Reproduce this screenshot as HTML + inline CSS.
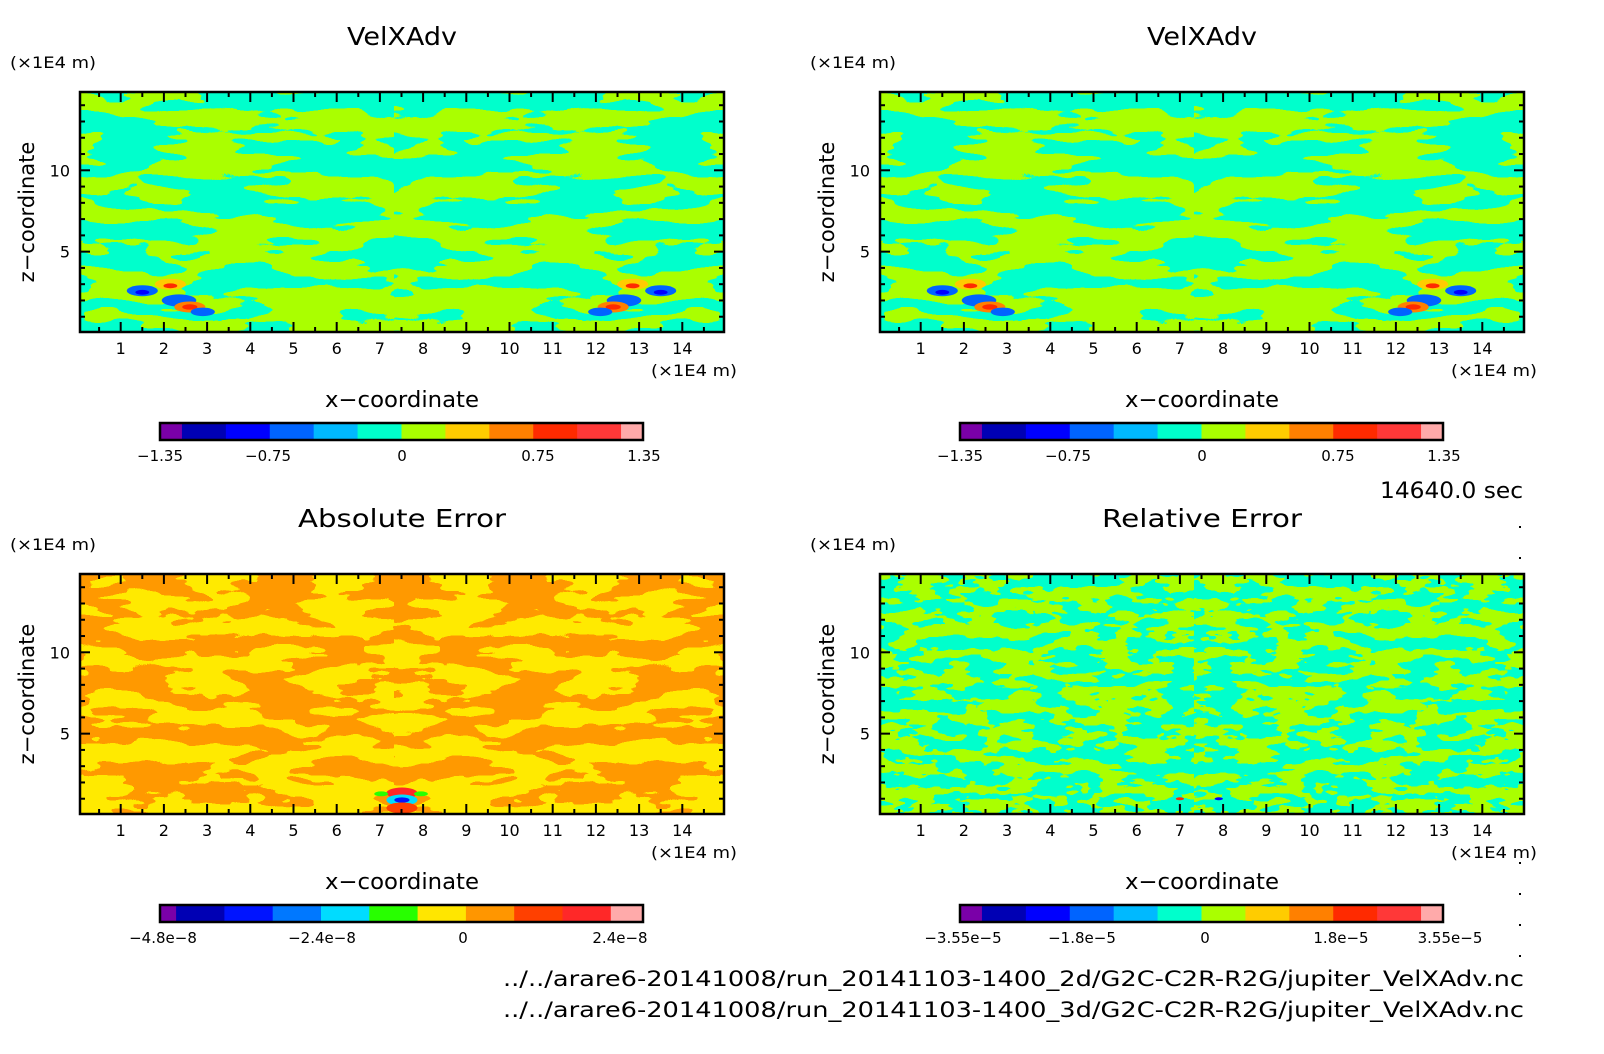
<!DOCTYPE html>
<html><head><meta charset="utf-8"><style>
html,body{margin:0;padding:0;background:#fff;}
svg{display:block;font-family:"DejaVu Sans","Liberation Sans",sans-serif;}
</style></head><body>
<svg id="fig" width="1604" height="1054" viewBox="0 0 1604 1054">
<defs>
<clipPath id="plotClip"><rect x="80" y="92" width="644" height="240"/></clipPath>
<filter id="fTop" filterUnits="userSpaceOnUse" x="70" y="80" width="340" height="270" color-interpolation-filters="sRGB">
 <feTurbulence type="fractalNoise" baseFrequency="0.011 0.045" numOctaves="3" seed="7"/>
 <feColorMatrix type="matrix" values="1 0 0 0 0  1 0 0 0 0  1 0 0 0 0  0 0 0 0 1"/>
 <feComponentTransfer><feFuncR type="discrete" tableValues="0 0.667"/><feFuncG type="discrete" tableValues="1 1"/><feFuncB type="discrete" tableValues="0.8 0"/></feComponentTransfer>
</filter>
<filter id="fAbs" filterUnits="userSpaceOnUse" x="70" y="560" width="340" height="270" color-interpolation-filters="sRGB">
 <feTurbulence type="fractalNoise" baseFrequency="0.016 0.055" numOctaves="3" seed="3"/>
 <feColorMatrix type="matrix" values="1 0 0 0 0  1 0 0 0 0  1 0 0 0 0  0 0 0 0 1"/>
 <feComponentTransfer><feFuncR type="discrete" tableValues="1 1"/><feFuncG type="discrete" tableValues="0.6 0.92"/><feFuncB type="discrete" tableValues="0 0"/></feComponentTransfer>
</filter>
<filter id="fRel" filterUnits="userSpaceOnUse" x="870" y="560" width="340" height="270" color-interpolation-filters="sRGB">
 <feTurbulence type="fractalNoise" baseFrequency="0.03 0.08" numOctaves="3" seed="11"/>
 <feColorMatrix type="matrix" values="1 0 0 0 0  1 0 0 0 0  1 0 0 0 0  0 0 0 0 1"/>
 <feComponentTransfer><feFuncR type="discrete" tableValues="0 0.667"/><feFuncG type="discrete" tableValues="1 1"/><feFuncB type="discrete" tableValues="0.8 0"/></feComponentTransfer>
</filter>
</defs>
<g id="root"></g>
</svg>
<script>
// ---- data ----
const xTicks=[1,2,3,4,5,6,7,8,9,10,11,12,13,14];
const yTicks=[5,10];
const cbTopColors=["#7a00a8","#0000b4","#0000ff","#0064ff","#00b9ff","#00ffcc","#aaff00","#ffcc00","#ff8000","#ff2a00","#ff3838","#ffaaaa"];
const cbTopBounds=[-1.35,-1.2,-0.9,-0.6,-0.3,0,0.3,0.6,0.9,1.2,1.5,1.8,1.95];
const cbAbsColors=["#7a00a8","#0000b4","#0014ff","#0078ff","#00dcff","#28ff00","#ffe600","#ff9600","#ff4000","#ff2828","#ffaaaa"];
const cbAbsBounds=[-4.8,-4.5,-3.6,-2.7,-1.8,-0.9,0,0.9,1.8,2.7,3.6,4.2];
const topLabels=["−1.35","−0.75","0","0.75","1.35"];
const topLabelPos=[160,268,402,538,644];
const absLabels=["−4.8e−8","−2.4e−8","0","2.4e−8"];
const absLabelPos=[163,322,463,620];
const relLabels=["−3.55e−5","−1.8e−5","0","1.8e−5","3.55e−5"];
const relLabelPos=[963,1082,1205,1341,1450];
const topBlobsX=[1.5,1.5,2.15,2.15,2.35,2.6,2.6,2.9];
const topBlobsY=[2.6,2.5,3.0,2.9,2.0,1.6,1.6,1.3];
const topBlobsR=[0.45,0.2,0.45,0.2,0.5,0.45,0.22,0.35];
const topBlobsC=["#0064ff","#0000ff","#ffcc00","#ff2a00","#0064ff","#ff8000","#ff2a00","#0064ff"];
const absBlobsX=[7.51,7.51,7.51,7.51,7.03,7.95];
const absBlobsY=[1.35,0.92,0.92,0.43,1.3,1.3];
const absBlobsR=[0.45,0.45,0.22,0.45,0.2,0.2];
const absBlobsC=["#ff2828","#00dcff","#0014ff","#ff4000","#28ff00","#28ff00"];

const NS="http://www.w3.org/2000/svg";
const root=document.getElementById('root');
function mk(tag,attrs,parent,text){const e=document.createElementNS(NS,tag);for(const k in attrs)e.setAttribute(k,attrs[k]);if(text!==undefined)e.textContent=text;(parent||root).appendChild(e);return e;}

const panels=[
 {ox:0,oy:0,title:"VelXAdv",tl:110,filter:"fTop",bx:topBlobsX,by:topBlobsY,br:topBlobsR,bc:topBlobsC,mirror:true,cb:"top",name:"velxadv-2d"},
 {ox:800,oy:0,title:"VelXAdv",tl:110,filter:"fTop",bx:topBlobsX,by:topBlobsY,br:topBlobsR,bc:topBlobsC,mirror:true,cb:"top",name:"velxadv-3d"},
 {ox:0,oy:482,title:"Absolute Error",tl:208,filter:"fAbs",bx:absBlobsX,by:absBlobsY,br:absBlobsR,bc:absBlobsC,mirror:false,cb:"abs",name:"absolute-error"},
 {ox:800,oy:482,title:"Relative Error",tl:200,filter:"fRel",bx:[7.0,7.9],by:[1.0,1.0],br:[0.12,0.12],bc:["#ff2a00","#0000ff"],mirror:false,cb:"rel",name:"relative-error"}
];
const fillFilterOrigin={fTop:[0,0],fAbs:[0,482],fRel:[800,482]};

panels.forEach((p,i)=>{
 const g=mk('g',{transform:`translate(${p.ox},${p.oy})`});
 
 
 const X=v=>77.5+43.2*v, Y=v=>333-16.27*v;
 const L=80,R=724,T=92,B=332;
 const clipG=mk('g',{'clip-path':'url(#plotClip)'},g);
 const fo=fillFilterOrigin[p.filter];
 const fg=mk('g',{transform:`translate(${-fo[0]},${-fo[1]})`},clipG);
 
 
 const bx=fo[0], by=fo[1];
 const half=mk('rect',{x:L+bx,y:T+by,width:(R-L)/2+1,height:B-T,filter:`url(#${p.filter})`},fg);
 const id='half'+i; half.setAttribute('id',id);
 const mx=(L+R)/2+bx;
 mk('use',{href:'#'+id,transform:`translate(${2*mx},0) scale(-1,1)`},fg);
 for(let k=0;k<p.bx.length;k++){
  const drawB=(xv)=>{const e=mk('ellipse',{cx:X(xv),cy:Y(p.by[k]),rx:p.br[k]*43.2*0.8,ry:p.br[k]*16.27*0.75,fill:p.bc[k]},clipG);
   
   };
  drawB(p.bx[k]);
  if(p.mirror) drawB(15.0-p.bx[k]);
 }
 const fr=mk('rect',{x:L,y:T,width:R-L,height:B-T,fill:'none',stroke:'#000','stroke-width':2.5},g);
 
 
 for(let v=0.5;v<15;v+=0.5){const x=X(v);if(x<L+2||x>R-2)continue;const len=(v%1===0)?10:5;
  mk('line',{x1:x,y1:B,x2:x,y2:B-len,stroke:'#000','stroke-width':2},g);
  mk('line',{x1:x,y1:T,x2:x,y2:T+len,stroke:'#000','stroke-width':2},g);}
 for(let v=1;v<15;v++){const y=Y(v);if(y<T+2)continue;const len=(v%5===0)?10:5;
  mk('line',{x1:L,y1:y,x2:L+len,y2:y,stroke:'#000','stroke-width':2},g);
  mk('line',{x1:R,y1:y,x2:R-len,y2:y,stroke:'#000','stroke-width':2},g);}
 xTicks.forEach(v=>{const t=mk('text',{x:X(v),y:354,'font-size':16,'text-anchor':'middle'},g,String(v));
  
  });
 yTicks.forEach(v=>{const t=mk('text',{x:70,y:Y(v)+6,'font-size':16,'text-anchor':'end'},g,String(v));
  
  });
 const tt=mk('text',{x:402-p.tl/2,y:45,'font-size':25,textLength:p.tl,lengthAdjust:'spacingAndGlyphs'},g,p.title);
 
 
 const u1=mk('text',{x:10,y:68,'font-size':16,textLength:86,lengthAdjust:'spacingAndGlyphs'},g,"(×1E4 m)");
 
 
 const u2=mk('text',{x:651,y:376,'font-size':16,textLength:86,lengthAdjust:'spacingAndGlyphs'},g,"(×1E4 m)");
 
 
 const xt=mk('text',{x:325,y:407,'font-size':22,textLength:154,lengthAdjust:'spacingAndGlyphs'},g,"x−coordinate");
 
 
 const yt=mk('text',{x:0,y:0,'font-size':21,'text-anchor':'middle',transform:'translate(34,212) rotate(-90)'},g,"z−coordinate");
 
 
 const cg=mk('g',{},g);
 
 
 const cols=p.cb==="abs"?cbAbsColors:cbTopColors, bnd=p.cb==="abs"?cbAbsBounds:cbTopBounds;
 const c0=160,c1=643, CX=v=>c0+(v-bnd[0])/(bnd[bnd.length-1]-bnd[0])*(c1-c0);
 cols.forEach((c,k)=>{const r=mk('rect',{x:CX(bnd[k]),y:423,width:CX(bnd[k+1])-CX(bnd[k])+0.5,height:17,fill:c},cg);
  
  });
 mk('rect',{x:c0,y:423,width:c1-c0,height:17,fill:'none',stroke:'#000','stroke-width':2.5},cg);
 const labs=p.cb==="abs"?absLabels:(p.cb==="rel"?relLabels:topLabels);
 const pos=p.cb==="abs"?absLabelPos:(p.cb==="rel"?relLabelPos.map(v=>v-800):topLabelPos);
 labs.forEach((s,k)=>{const t=mk('text',{x:pos[k],y:461,'font-size':15,'text-anchor':'middle'},cg,s);
  
  });
});
const tm=mk('text',{x:1380,y:498,'font-size':22,textLength:143,lengthAdjust:'spacingAndGlyphs'},root,"14640.0 sec");


const f1=mk('text',{x:503,y:986,'font-size':21,textLength:1021,lengthAdjust:'spacingAndGlyphs'},root,"../../arare6-20141008/run_20141103-1400_2d/G2C-C2R-R2G/jupiter_VelXAdv.nc");


const f2=mk('text',{x:503,y:1017,'font-size':21,textLength:1021,lengthAdjust:'spacingAndGlyphs'},root,"../../arare6-20141008/run_20141103-1400_3d/G2C-C2R-R2G/jupiter_VelXAdv.nc");


[526,557,862,893,924,955].forEach(y=>{mk('rect',{x:1519,y:y,width:2,height:2,fill:'#000'});});
</script>
</body></html>
